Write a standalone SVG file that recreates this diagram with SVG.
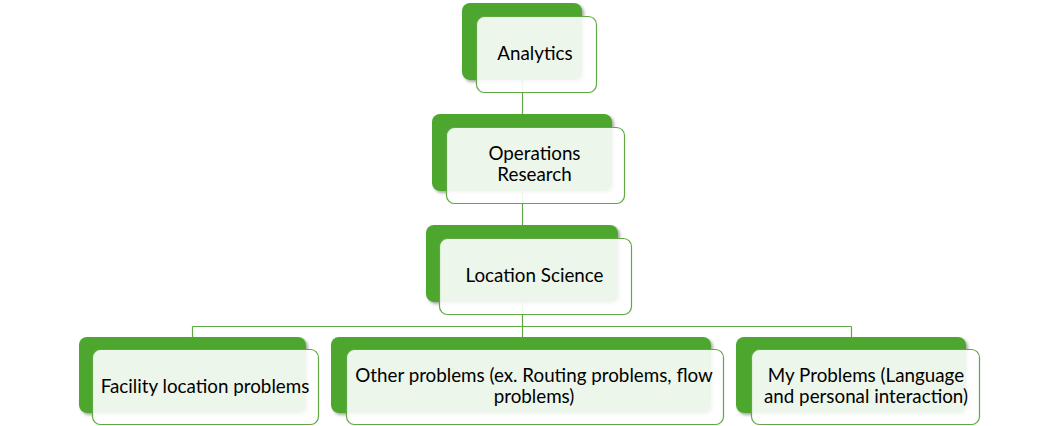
<svg xmlns="http://www.w3.org/2000/svg" width="1056" height="426" viewBox="0 0 1056 426">
<defs>
<filter id="sh" x="-10%" y="-10%" width="125%" height="130%">
<feDropShadow dx="2" dy="2" stdDeviation="1.5" flood-color="#000" flood-opacity="0.35"/>
</filter>
<style>
.back{fill:#4EA72E;filter:url(#sh);}
.front{fill:#fff;fill-opacity:0.9;stroke:#5FA843;stroke-width:1.2;}
.con{stroke:#5FA843;stroke-width:1.2;fill:none;}
text{font-family:Lato,"Liberation Sans",sans-serif;font-size:18.8px;fill:#000;text-anchor:middle;}
</style>
</defs>
<rect width="1056" height="426" fill="#fff"/>
<g id="connectors">
<path class="con" d="M522.5 54V326.5M192.5 326.5H851.5M192.5 326.5V380M522.5 326.5V380M851.5 326.5V380"/>
</g>
<g id="analytics">
<rect class="back" x="462" y="3" width="120" height="77" rx="8"/>
<rect class="front" x="476.5" y="16.5" width="120" height="76" rx="8"/>
<text x="535" y="60">Analytics</text>
</g>
<g id="operations-research">
<rect class="back" x="432" y="114" width="180" height="77" rx="8"/>
<rect class="front" x="446.5" y="127.5" width="178" height="76" rx="8"/>
<text x="534.5" y="160">Operations</text>
<text x="534.5" y="181">Research</text>
</g>
<g id="location-science">
<rect class="back" x="426" y="225" width="192" height="77" rx="8"/>
<rect class="front" x="439.5" y="238.5" width="192" height="76" rx="8"/>
<text x="534.5" y="282">Location Science</text>
</g>
<g id="facility-location">
<rect class="back" x="79" y="337" width="227" height="76" rx="8"/>
<rect class="front" x="92.5" y="349.5" width="226" height="75" rx="8"/>
<text x="205" y="393">Facility location problems</text>
</g>
<g id="other-problems">
<rect class="back" x="331" y="337" width="380" height="76" rx="8"/>
<rect class="front" x="346.5" y="349.5" width="377" height="75" rx="8"/>
<text x="534" y="382">Other problems (ex. Routing problems, flow</text>
<text x="534" y="403">problems)</text>
</g>
<g id="my-problems">
<rect class="back" x="736" y="337" width="230" height="76" rx="8"/>
<rect class="front" x="751.5" y="349.5" width="228" height="75" rx="8"/>
<text x="866" y="382">My Problems (Language</text>
<text x="866" y="403">and personal interaction)</text>
</g>
</svg>
